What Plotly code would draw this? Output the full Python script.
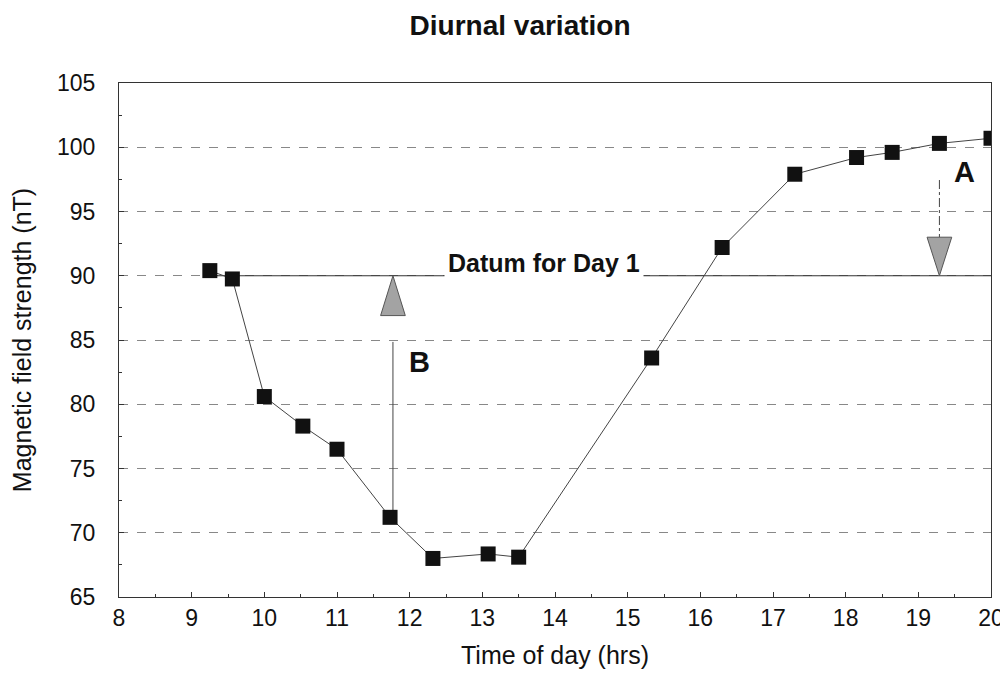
import plotly.graph_objects as go

# Data
time_hrs = [9.25, 9.56, 10.0, 10.53, 11.0, 11.73, 12.32, 13.08, 13.5,
            15.33, 16.3, 17.3, 18.15, 18.64, 19.29, 20.0]
field_nT = [90.4, 89.75, 80.6, 78.3, 76.5, 71.2, 68.0, 68.35, 68.1,
            83.6, 92.2, 97.9, 99.2, 99.6, 100.3, 100.7]

datum_value = 90.0
datum_x = [9.25, 20.0]

# Correction arrows (B: low near 11.8 h, A: high near 19.3 h)
arrow_b_x = 11.77
arrow_b_line_y = [71.2, 84.85]
arrow_b_base_y = 86.9
arrow_a_x = 19.29
arrow_a_line_y = [97.45, 93.0]
arrow_a_base_y = 93.0

x_ticks = list(range(8, 21))
y_ticks = list(range(65, 106, 5))

FONT = "Liberation Sans, Arial, sans-serif"
HALF_W = 0.17  # triangle half-width in hours (style)

fig = go.Figure()

# datum line
fig.add_trace(go.Scatter(x=datum_x, y=[datum_value, datum_value], mode="lines",
                         line=dict(color="#333333", width=1), showlegend=False,
                         hoverinfo="skip"))

# arrow B shaft
fig.add_trace(go.Scatter(x=[arrow_b_x, arrow_b_x], y=arrow_b_line_y, mode="lines",
                         line=dict(color="#444444", width=1), showlegend=False))
# arrow A shaft
fig.add_trace(go.Scatter(x=[arrow_a_x, arrow_a_x], y=arrow_a_line_y, mode="lines",
                         line=dict(color="#444444", width=1, dash="dashdot"),
                         showlegend=False))

# arrow heads (triangles pointing to the datum)
for ax, base in [(arrow_b_x, arrow_b_base_y), (arrow_a_x, arrow_a_base_y)]:
    path = (f"M {ax - HALF_W},{base} L {ax + HALF_W},{base} "
            f"L {ax},{datum_value} Z")
    fig.add_shape(type="path", path=path, xref="x", yref="y",
                  fillcolor="#a3a3a3", line=dict(color="#555555", width=1))

# main series
fig.add_trace(go.Scatter(x=time_hrs, y=field_nT, mode="lines+markers",
                         line=dict(color="#444444", width=1),
                         marker=dict(symbol="square", size=15, color="#111111"),
                         showlegend=False))

fig.add_annotation(x=13.85, y=datum_value, yanchor="bottom", yshift=-5,
                   text="<b>Datum for Day 1</b>",
                   showarrow=False, bgcolor="white", borderpad=3,
                   font=dict(family=FONT, size=25, color="#111111"))
fig.add_annotation(x=12.14, y=83.3, text="<b>B</b>", showarrow=False,
                   font=dict(family=FONT, size=29, color="#111111"))
fig.add_annotation(x=19.63, y=98.1, text="<b>A</b>", showarrow=False,
                   font=dict(family=FONT, size=29, color="#111111"))

fig.update_layout(
    width=1008, height=675,
    margin=dict(l=111, r=13, t=75, b=86),
    paper_bgcolor="white", plot_bgcolor="white",
    title=dict(text="<b>Diurnal variation</b>", x=0.508, xanchor="center",
               y=0.975, yanchor="middle",
               font=dict(family=FONT, size=28, color="#111111")),
    font=dict(family=FONT, color="#111111"),
)
fig.update_xaxes(range=[8, 20], tickvals=x_ticks, showgrid=False,
                 showline=True, linecolor="#333333", linewidth=1, mirror=True,
                 ticks="inside", ticklen=5, tickcolor="#333333",
                 minor=dict(dtick=0.5, ticks="inside", ticklen=3, tickcolor="#333333"),
                 tickfont=dict(family=FONT, size=23, color="#111111"),
                 title=dict(text="Time of day (hrs)", standoff=16,
                            font=dict(family=FONT, size=25, color="#111111")),
                 zeroline=False)
fig.update_yaxes(range=[65, 105], tickvals=y_ticks,
                 showgrid=True, gridcolor="#888888", griddash="dash", gridwidth=1,
                 showline=True, linecolor="#333333", linewidth=1, mirror=True,
                 ticks="inside", ticklen=5, tickcolor="#333333",
                 minor=dict(dtick=2.5, ticks="inside", ticklen=3, tickcolor="#333333"),
                 tickfont=dict(family=FONT, size=23, color="#111111"),
                 ticklabelstandoff=18,
                 title=dict(text="Magnetic field strength (nT)", standoff=18,
                            font=dict(family=FONT, size=25, color="#111111")),
                 zeroline=False)

fig.write_html("out.html")
